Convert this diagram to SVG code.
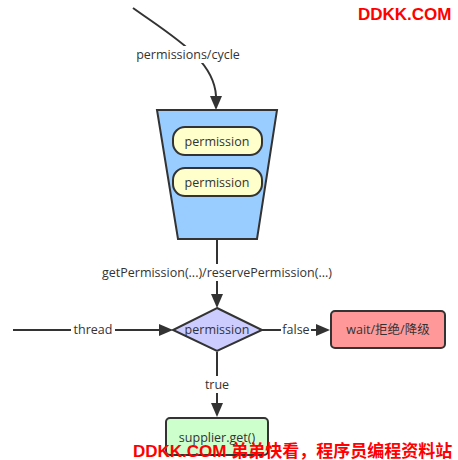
<svg xmlns="http://www.w3.org/2000/svg" width="458" height="460" viewBox="0 0 458 460">
<style>
.s{stroke:#333;stroke-width:2}
.t{font-family:"Open Sans","Noto Sans CJK SC",sans-serif;font-size:12.5px;fill:#333;text-anchor:middle}
.lb{fill:#fff}
.wm{font-family:"Liberation Sans","Noto Sans CJK SC",sans-serif;font-size:17px;font-weight:bold;fill:#f00}
</style>
<rect width="458" height="460" fill="#fff"/>
<g id="connectors" fill="none">
<path class="s" d="M133,8 C175,38 214,60 216,96"/>
<path d="M210,96 L216,110 L222,96 Z" fill="#333"/>
<rect class="lb" x="131" y="46" width="114" height="17"/>
<text class="t" x="188" y="59">permissions/cycle</text>
<path class="s" d="M217,240 L217,294"/>
<path d="M211,294 L217,308 L223,294 Z" fill="#333"/>
<rect class="lb" x="94" y="264" width="246" height="17"/>
<text class="t" x="217" y="277">getPermission(...)/reservePermission(...)</text>
<path class="s" d="M13,330 L159,330"/>
<path d="M159,324 L173,330 L159,336 Z" fill="#333"/>
<rect class="lb" x="71" y="321" width="44" height="17"/>
<text class="t" x="93" y="334">thread</text>
<path class="s" d="M262,330 L316,330"/>
<path d="M316,324 L330,330 L316,336 Z" fill="#333"/>
<rect class="lb" x="281" y="321" width="30" height="17"/>
<text class="t" x="296" y="334">false</text>
<path class="s" d="M217,352 L217,403"/>
<path d="M211,403 L217,417 L223,403 Z" fill="#333"/>
<rect class="lb" x="202" y="376" width="30" height="17"/>
<text class="t" x="217" y="389">true</text>
</g>
<g id="bucket">
<path class="s" d="M157,110 L277,110 L257,239 L178,239 Z" fill="#99CCFF"/>
</g>
<g id="permission1">
<rect class="s" x="173" y="127" width="89" height="28" rx="12" fill="#FFFFCC"/>
<text class="t" x="217" y="146">permission</text>
</g>
<g id="permission2">
<rect class="s" x="173" y="168" width="89" height="28" rx="12" fill="#FFFFCC"/>
<text class="t" x="217" y="187">permission</text>
</g>
<g id="decision">
<path class="s" d="M217,308 L262,330 L217,351 L173,330 Z" fill="#CCCCFF"/>
<text class="t" x="217" y="334">permission</text>
</g>
<g id="reject">
<rect class="s" x="331" y="311" width="114" height="37" rx="4" fill="#FF9999"/>
<text class="t" x="388" y="334">wait/拒绝/降级</text>
</g>
<g id="supplier">
<rect class="s" x="166" y="418" width="102" height="37" rx="4" fill="#CCFFCC"/>
<text class="t" x="217" y="442">supplier.get()</text>
</g>
<g id="watermark">
<text class="wm" x="358" y="20">DDKK.COM</text>
<text class="wm" x="133" y="457">DDKK.COM 弟弟快看，程序员编程资料站</text>
</g>
</svg>
